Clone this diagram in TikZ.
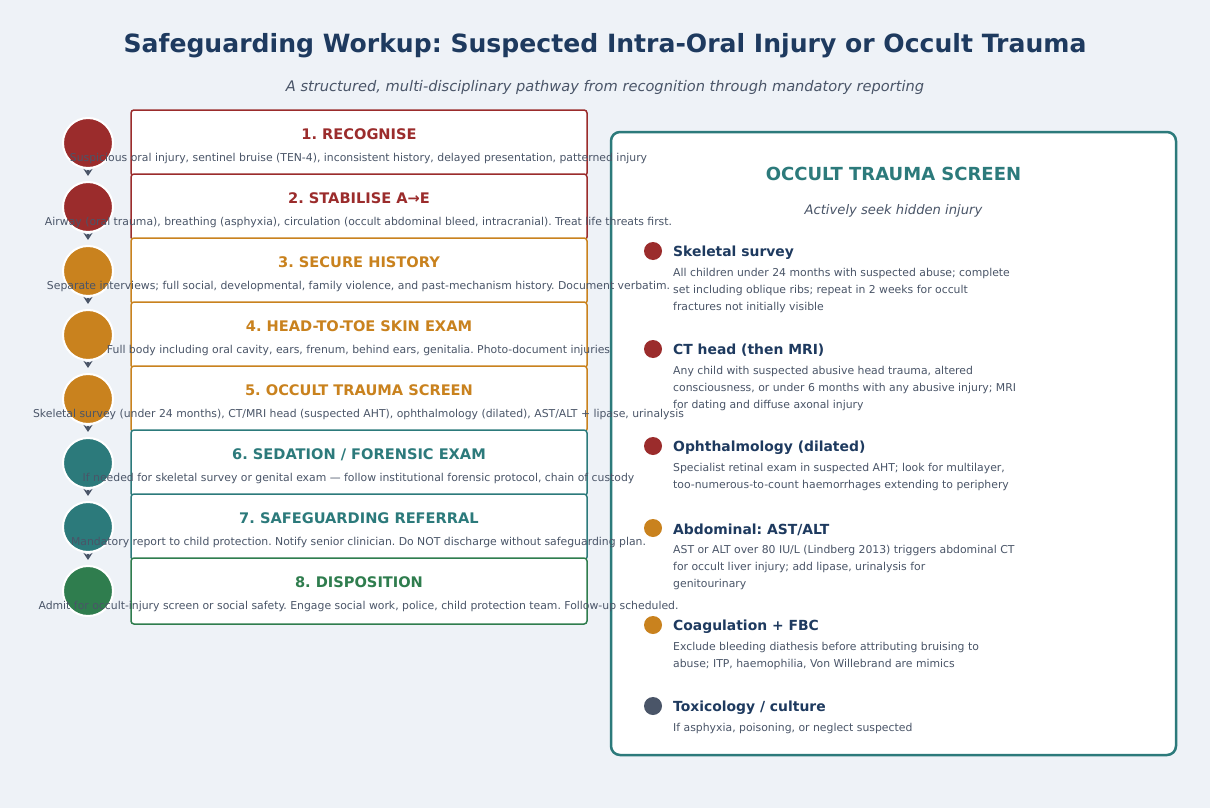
\documentclass[tikz,border=0pt]{standalone}
\usepackage{fontspec}
\setmainfont{DejaVu Sans}
\usetikzlibrary{arrows.meta}
\frenchspacing
\definecolor{bgc}{HTML}{EEF2F7}
\definecolor{navy}{HTML}{1E3A5F}
\definecolor{cred}{HTML}{9B2C2C}
\definecolor{corange}{HTML}{C9821E}
\definecolor{cteal}{HTML}{2C7A7B}
\definecolor{cgreen}{HTML}{2F7D4E}
\definecolor{txtgray}{HTML}{4A5568}
\tikzset{
  stepbox/.style={draw, line width=1.5pt, fill=white, rounded corners=3pt, minimum width=456pt, minimum height=66pt, inner sep=0pt},
  stepdot/.style={circle, draw=white, line width=2pt, minimum size=50pt, inner sep=0pt},
  steptitle/.style={font=\fontsize{14.6}{16}\selectfont\bfseries, inner sep=0pt, anchor=center},
  stepdesc/.style={font=\fontsize{10.85}{12}\selectfont, text=txtgray, inner sep=0pt, anchor=center},
  flowarrow/.style={draw=txtgray, line width=1.6pt, -{Stealth[length=7pt,width=9pt]}, shorten <=1pt, shorten >=5pt},
  itemdot/.style={circle, minimum size=18pt, inner sep=0pt},
  itemtitle/.style={font=\fontsize{13.9}{16}\selectfont\bfseries, text=navy, anchor=west, inner sep=0pt},
  itemdesc/.style={font=\fontsize{10.85}{17}\selectfont, text=txtgray, anchor=north west, inner sep=0pt, align=left},
}
\begin{document}
\begin{tikzpicture}[x=1pt,y=-1pt]
\fill[bgc] (0,0) rectangle (1210,808);
\useasboundingbox (0,0) rectangle (1210,808);

\node[font=\fontsize{25.1}{30}\selectfont\bfseries, text=navy] (title) at (605,46) {Safeguarding Workup: Suspected Intra-Oral Injury or Occult Trauma};
\node[font=\fontsize{14.6}{17}\selectfont\itshape, text=txtgray] (subtitle) at (605,87) {A structured, multi-disciplinary pathway from recognition through mandatory reporting};

% right panel (drawn first so step texts run over its border)
\node[draw=cteal, line width=2.5pt, fill=white, rounded corners=9pt, minimum width=565pt, minimum height=623pt, inner sep=0pt] (panel) at (893.5,443.5) {};
\node[font=\fontsize{18}{21}\selectfont\bfseries, text=cteal] (ptitle) at (893.5,174) {OCCULT TRAUMA SCREEN};
\node[font=\fontsize{13.15}{16}\selectfont\itshape, text=txtgray] (psub) at (893.5,211) {Actively seek hidden injury};

\foreach \k/\y/\col/\t/\d in {
 1/251/cred/{Skeletal survey}/{All children under 24 months with suspected abuse; complete\\set including oblique ribs; repeat in 2 weeks for occult\\fractures not initially visible},
 2/349/cred/{CT head (then MRI)}/{Any child with suspected abusive head trauma, altered\\consciousness, or under 6 months with any abusive injury; MRI\\for dating and diffuse axonal injury},
 3/446/cred/{Ophthalmology (dilated)}/{Specialist retinal exam in suspected AHT; look for multilayer,\\too-numerous-to-count haemorrhages extending to periphery},
 4/528/corange/{Abdominal: AST/ALT}/{AST or ALT over 80 IU/L (Lindberg 2013) triggers abdominal CT\\for occult liver injury; add lipase, urinalysis for\\genitourinary},
 5/625/corange/{Coagulation + FBC}/{Exclude bleeding diathesis before attributing bruising to\\abuse; ITP, haemophilia, Von Willebrand are mimics},
 6/706/txtgray/{Toxicology / culture}/{If asphyxia, poisoning, or neglect suspected}}
{
  \node[itemdot, fill=\col] (idot\k) at (653,\y) {};
  \node[itemtitle] (it\k) at (673,\y+1.5) {\t};
  \node[itemdesc] (id\k) at (673,\y+17) {\d};
}

% step boxes
\foreach \i/\col/\t/\d in {
 1/cred/{1. RECOGNISE}/{Suspicious oral injury, sentinel bruise (TEN-4), inconsistent history, delayed presentation, patterned injury},
 2/cred/{2. STABILISE A→E}/{Airway (oral trauma), breathing (asphyxia), circulation (occult abdominal bleed, intracranial). Treat life threats first.},
 3/corange/{3. SECURE HISTORY}/{Separate interviews; full social, developmental, family violence, and past-mechanism history. Document verbatim.},
 4/corange/{4. HEAD-TO-TOE SKIN EXAM}/{Full body including oral cavity, ears, frenum, behind ears, genitalia. Photo-document injuries},
 5/corange/{5. OCCULT TRAUMA SCREEN}/{Skeletal survey (under 24 months), CT/MRI head (suspected AHT), ophthalmology (dilated), AST/ALT + lipase, urinalysis},
 6/cteal/{6. SEDATION / FORENSIC EXAM}/{If needed for skeletal survey or genital exam — follow institutional forensic protocol, chain of custody},
 7/cteal/{7. SAFEGUARDING REFERRAL}/{Mandatory report to child protection. Notify senior clinician. Do NOT discharge without safeguarding plan.},
 8/cgreen/{8. DISPOSITION}/{Admit for occult-injury screen or social safety. Engage social work, police, child protection team. Follow-up scheduled.}}
{
  \pgfmathsetmacro{\yc}{143+64*(\i-1)}
  \node[stepbox, draw=\col] (b\i) at (359,\yc) {};
  \node[stepdot, fill=\col] (c\i) at (88,\yc) {};
  \node[steptitle, text=\col] (t\i) at (359,\yc-8.5) {\t};
  \node[stepdesc] (d\i) at (358.5,\yc+15.5) {\d};
}
\foreach \i [evaluate=\i as \j using int(\i+1)] in {1,...,7}
  \draw[flowarrow] (c\i.south) -- (c\j.north);
\end{tikzpicture}
\end{document}
